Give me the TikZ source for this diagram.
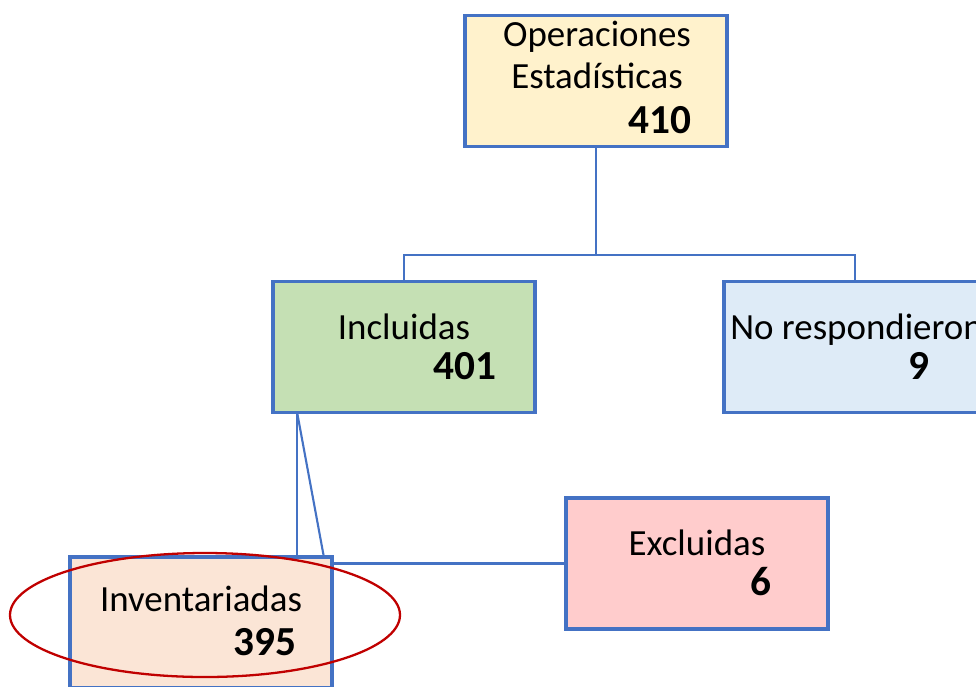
\documentclass[tikz,border=0pt]{standalone}
\usepackage{fontspec}
\setmainfont{Carlito}
\usepackage{xcolor}
\usepackage{tikz}
\usetikzlibrary{calc}
\usetikzlibrary{shapes.geometric}
\definecolor{boxblue}{HTML}{4472C4}
\definecolor{fillyellow}{HTML}{FFF2CC}
\definecolor{fillgreen}{HTML}{C5E0B4}
\definecolor{fillblue}{HTML}{DEEBF7}
\definecolor{fillred}{HTML}{FFCCCC}
\definecolor{fillorange}{HTML}{FBE5D6}
\definecolor{ringred}{HTML}{C00000}
\tikzset{
    catbox/.style = {rectangle, draw=boxblue, line width=1.8pt, minimum width=52.4mm, minimum height=26.2mm},
    catname/.style = {anchor=base, font=\fontsize{21}{25}\selectfont, inner sep=0pt},
    catnum/.style = {anchor=base east, font=\fontsize{23.5}{28}\selectfont\bfseries, inner sep=0pt},
}

\begin{document}
\begin{tikzpicture}[
	x=0.2mm,
	y=-0.2mm
]
\tikzset{
    conn/.style = {-, draw=boxblue, line width=1.2pt},
    ring/.style = {ellipse, draw=ringred, line width=1.3pt, minimum width=78mm, minimum height=24.8mm},
}
\useasboundingbox (0,0) rectangle (976,686);
\clip (0,0) rectangle (976,686);
%
\node[catbox,fill=fillyellow] at (596,81) (ops) {};
\node[catbox,fill=fillgreen] at (404,347) (incl) {};
\node[catbox,fill=fillblue] at (855,347) (nores) {};
\node[catbox,fill=fillred] at (697,563.5) (excl) {};
\node[catbox,fill=fillorange] at (201,622.5) (inv) {};
%
\draw[conn] (ops.south) -- ++(0,107) coordinate (split);
\draw[conn] (split) -| (incl.north);
\draw[conn] (split) -| (nores.north);
%
\coordinate (inclfoot) at ($(incl.south west)+(26,0)$);
\draw[conn] (inclfoot) -- (inclfoot |- inv.north);
\draw[conn] (inclfoot) -- ($(inv.north east)+(-10,0)$);
\draw[conn] (excl.west) -- (excl.west -| inv.east);
%
\node[catname] at (597,46) (opsa) {Operaciones};
\node[catname] at (597,88) (opsb) {Estadísticas};
\node[catnum] at (692,133) (opsn) {410};
\node[catname] at (404,339) (incla) {Incluidas};
\node[catnum] at (497,379) (incln) {401};
\node[catname,anchor=base west] at (730,339) (noresa) {No respondieron};
\node[catnum] at (930,379) (noresn) {9};
\node[catname] at (697,555) (excla) {Excluidas};
\node[catnum] at (772,595) (excln) {6};
\node[catname] at (201,611) (inva) {Inventariadas};
\node[catnum] at (297,655) (invn) {395};
%
\node[ring] at (205,615) (mark) {};
\end{tikzpicture}
\end{document}
